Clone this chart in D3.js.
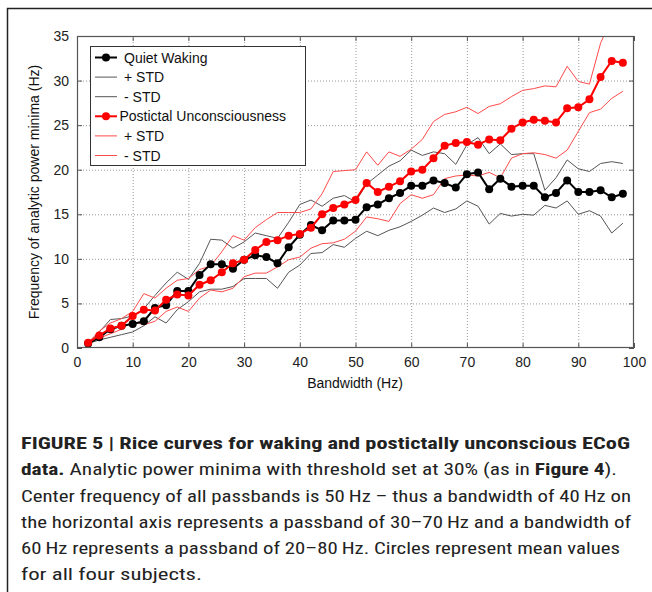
<!DOCTYPE html>
<html>
<head>
<meta charset="utf-8">
<script src="https://cdn.jsdelivr.net/npm/d3@7"></script>
<style>
  html, body { margin: 0; padding: 0; background: #fff; }
  svg { display: block; }
</style>
</head>
<body>
<svg id="chart" width="652" height="592"></svg>
<script>
// ---------- DATA ----------
const bandwidth = d3.range(2, 100, 2); // 2..98 Hz
const xTicks = [0, 10, 20, 30, 40, 50, 60, 70, 80, 90, 100];
const yTicks = [0, 5, 10, 15, 20, 25, 30, 35];

const qwMean = [0.5,1.2,2.1,2.5,2.7,3.0,4.5,4.8,6.4,6.4,
  8.2,9.4,9.4,8.9,9.9,10.4,10.2,9.5,11.3,12.7,
  13.8,13.2,14.3,14.3,14.4,15.8,16.1,16.8,17.4,18.2,
  18.2,18.8,18.5,18.0,19.5,19.7,17.8,19.0,18.1,18.2,
  18.2,16.9,17.4,18.8,17.5,17.5,17.7,16.9,17.3];
const qwPlus = [0.5,1.8,3.2,3.3,3.6,4.4,5.9,7.3,8.5,7.7,
  9.5,12.2,12.1,11.2,11.9,12.9,12.6,12.3,14.1,16.1,
  16.6,15.9,16.8,17.1,16.4,18.4,19.4,20.4,21.0,22.2,
  21.6,22.0,21.8,20.6,22.8,23.6,21.8,22.9,21.7,21.8,
  21.8,17.7,19.1,21.1,20.1,19.8,20.7,20.9,20.7];
const qwMinus = [0.5,0.9,1.2,1.5,1.8,2.5,3.5,2.8,4.3,5.2,
  6.3,6.6,6.6,6.9,7.8,7.8,7.8,6.7,8.5,9.3,
  10.6,10.7,11.6,11.3,12.3,13.1,12.6,13.2,13.6,14.2,
  14.9,15.7,15.2,15.6,16.5,15.9,13.9,15.1,14.8,15.0,
  14.9,16.0,15.7,16.5,15.0,15.4,14.8,12.9,14.0];

const puMean = [0.6,1.4,2.2,2.5,3.6,4.3,4.2,5.4,6.0,5.9,
  7.1,7.6,8.5,9.5,9.9,11.0,11.9,12.1,12.6,12.8,
  13.5,15.0,15.7,16.1,16.6,18.5,17.5,18.1,18.7,19.8,
  20.0,21.3,22.7,23.0,23.1,22.8,23.4,23.3,24.6,25.3,
  25.6,25.5,25.3,26.9,27.0,27.9,30.4,32.2,32.0];
const puPlus = [0.6,1.9,2.8,3.3,4.1,6.1,5.6,6.7,7.6,7.8,
  8.8,9.2,10.8,12.6,12.1,13.5,14.4,15.2,15.2,15.2,
  15.6,17.3,19.8,19.9,20.0,22.0,20.5,22.0,21.5,22.3,
  23.4,25.4,26.2,26.5,27.0,26.3,27.1,27.4,28.2,28.9,
  29.1,29.4,29.3,31.6,29.9,29.6,34.2,37.0,38.5];
const puMinus = [0.6,1.1,1.6,2.1,3.0,2.6,3.0,4.1,4.6,4.1,
  5.6,6.5,6.3,6.7,8.0,8.4,8.4,9.1,9.9,10.2,
  11.2,11.7,11.8,12.2,13.1,14.7,14.5,14.2,16.2,17.2,
  16.8,17.2,19.0,19.3,19.4,19.3,19.7,19.1,21.3,21.8,
  21.9,21.7,21.3,22.2,24.3,26.4,26.8,28.0,28.8];

const legendLabels = ["Quiet Waking", "+ STD", "- STD", "Postictal Unconsciousness", "+ STD", "- STD"];
const captionLines = [
  [{t:"FIGURE 5 | Rice curves for waking and postictally unconscious ECoG", b:true}],
  [{t:"data.", b:true}, {t:" Analytic power minima with threshold set at 30% (as in ", b:false}, {t:"Figure 4", b:true}, {t:").", b:false}],
  [{t:"Center frequency of all passbands is 50\u2009Hz \u2013 thus a bandwidth of 40\u2009Hz on", b:false}],
  [{t:"the horizontal axis represents a passband of 30\u201370\u2009Hz and a bandwidth of", b:false}],
  [{t:"60\u2009Hz represents a passband of 20\u201380\u2009Hz. Circles represent mean values", b:false}],
  [{t:"for all four subjects.", b:false}]
];
const captionWidths = [609, 596, 610, 610, 599, 181];

// ---------- STYLE ----------
const font = "Liberation Sans, Arial, Helvetica, sans-serif";
const capFont = "'Liberation Sans Narrow', 'Roboto Condensed', 'Liberation Sans', Arial, sans-serif";
const blackStd = "#555555";
const redStd = "#ff4a4a";

const svg = d3.select("#chart");

// outer frame
svg.append("path")
  .attr("d", "M7.5,592 L7.5,8.5 L652,8.5")
  .attr("fill", "none").attr("stroke", "#222").attr("stroke-width", 1.5);

const L = 77, R = 634, T = 36, B = 348;
const x = d3.scaleLinear().domain([0, 100]).range([L, R]);
const y = d3.scaleLinear().domain([0, 35]).range([B, T]);

// grid
const grid = svg.append("g");
grid.selectAll(".gx").data(xTicks.slice(1, -1)).enter().append("line")
  .attr("x1", d => x(d) + 0.5).attr("x2", d => x(d) + 0.5)
  .attr("y1", T).attr("y2", B)
  .attr("stroke", "#999").attr("stroke-width", 1).attr("stroke-dasharray", "1,2");
grid.selectAll(".gy").data(yTicks.slice(1, -1)).enter().append("line")
  .attr("y1", d => y(d) + 0.5).attr("y2", d => y(d) + 0.5)
  .attr("x1", L).attr("x2", R)
  .attr("stroke", "#999").attr("stroke-width", 1).attr("stroke-dasharray", "1,2");

// clip
svg.append("clipPath").attr("id", "clip")
  .append("rect").attr("x", L).attr("y", T).attr("width", R - L).attr("height", B - T);

const line = d3.line().x((d, i) => x(bandwidth[i])).y(d => y(d));
const plot = svg.append("g").attr("clip-path", "url(#clip)");

function stdLine(arr, color) {
  plot.append("path").datum(arr).attr("d", line)
    .attr("fill", "none").attr("stroke", color).attr("stroke-width", 1);
}
stdLine(qwPlus, blackStd);
stdLine(qwMinus, blackStd);
stdLine(puPlus, redStd);
stdLine(puMinus, redStd);

function meanLine(arr, color) {
  plot.append("path").datum(arr).attr("d", line)
    .attr("fill", "none").attr("stroke", color).attr("stroke-width", 2);
  plot.selectAll(null).data(arr).enter().append("circle")
    .attr("cx", (d, i) => x(bandwidth[i])).attr("cy", d => y(d))
    .attr("r", 4).attr("fill", color);
}
meanLine(qwMean, "#000");
meanLine(puMean, "#ff0000");

// axes box
const axisColor = "#555";
svg.append("rect").attr("x", L + 0.5).attr("y", T + 0.5)
  .attr("width", R - L - 1).attr("height", B - T - 1)
  .attr("fill", "none").attr("stroke", axisColor).attr("stroke-width", 1.2);

const tickLen = 5;
const axB = svg.append("g").attr("transform", `translate(0,${B})`)
  .call(d3.axisBottom(x).tickValues(xTicks).tickSize(-tickLen).tickPadding(9).tickFormat(d3.format("d")));
const axT = svg.append("g").attr("transform", `translate(0,${T})`)
  .call(d3.axisTop(x).tickValues(xTicks).tickSize(-tickLen).tickFormat(""));
const axL = svg.append("g").attr("transform", `translate(${L},0)`)
  .call(d3.axisLeft(y).tickValues(yTicks).tickSize(-tickLen).tickPadding(8).tickFormat(d3.format("d")));
const axR = svg.append("g").attr("transform", `translate(${R},0)`)
  .call(d3.axisRight(y).tickValues(yTicks).tickSize(-tickLen).tickFormat(""));
[axB, axT, axL, axR].forEach(a => {
  a.select(".domain").remove();
  a.selectAll(".tick line").attr("stroke", axisColor);
  a.selectAll("text").attr("font-family", font).attr("font-size", 14).attr("fill", "#222");
});

// axis labels
svg.append("text").attr("x", 355).attr("y", 388).attr("text-anchor", "middle")
  .attr("font-family", font).attr("font-size", 14).attr("fill", "#111").text("Bandwidth (Hz)");
svg.append("text").attr("transform", `translate(39,${(T + B) / 2}) rotate(-90)`)
  .attr("text-anchor", "middle").attr("font-family", font).attr("font-size", 14).attr("fill", "#111")
  .text("Frequency of analytic power minima (Hz)");

// legend
const lg = svg.append("g");
lg.append("rect").attr("x", 90.5).attr("y", 46.5).attr("width", 215).attr("height", 119)
  .attr("fill", "#fff").attr("stroke", "#333").attr("stroke-width", 1);
const legendStyles = [
  {c: "#000", w: 2, m: true}, {c: blackStd, w: 1, m: false}, {c: blackStd, w: 1, m: false},
  {c: "#ff0000", w: 2, m: true}, {c: redStd, w: 1, m: false}, {c: redStd, w: 1, m: false}
];
const legendTextX = [124, 124, 124, 119.5, 124, 124];
legendLabels.forEach((lab, i) => {
  const yy = 57.5 + i * 19.6;
  const s = legendStyles[i];
  lg.append("line").attr("x1", 95).attr("x2", 117).attr("y1", yy).attr("y2", yy)
    .attr("stroke", s.c).attr("stroke-width", s.w);
  if (s.m) lg.append("circle").attr("cx", 106).attr("cy", yy).attr("r", 4).attr("fill", s.c);
  lg.append("text").attr("x", legendTextX[i]).attr("y", yy + 5)
    .attr("font-family", font).attr("font-size", 14).attr("fill", "#111").text(lab);
});

// caption
const capY = [449, 475, 502, 528, 554, 580];
captionLines.forEach((parts, i) => {
  const t = svg.append("text").attr("x", 21).attr("y", capY[i])
    .attr("font-family", capFont).attr("font-size", 17).attr("fill", "#222")
    .attr("textLength", captionWidths[i]).attr("lengthAdjust", "spacingAndGlyphs");
  parts.forEach(p => {
    t.append("tspan").attr("font-weight", p.b ? "bold" : "normal").text(p.t);
  });
});
</script>
</body>
</html>
